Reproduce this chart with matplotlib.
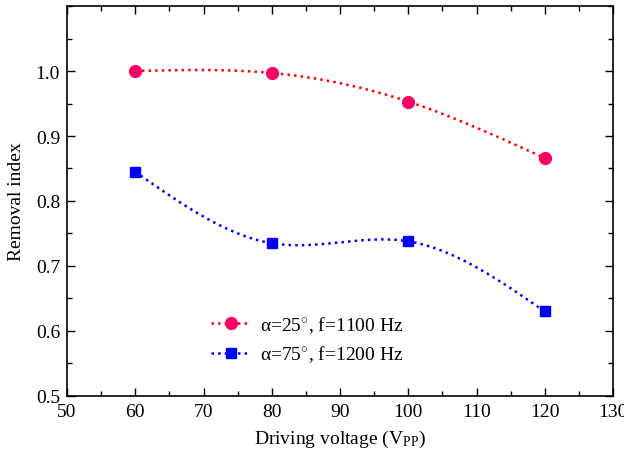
import numpy as np
import matplotlib
matplotlib.use("Agg")
import matplotlib.pyplot as plt
from matplotlib.ticker import MultipleLocator

plt.rcParams['font.family'] = ['Liberation Serif', 'DejaVu Serif']
plt.rcParams['mathtext.fontset'] = 'custom'
plt.rcParams['mathtext.rm'] = 'Liberation Serif'
plt.rcParams['mathtext.it'] = 'Liberation Serif:italic'

voltage = [60, 80, 100, 120]
red_vals = [1.000, 0.997, 0.953, 0.866]
blue_vals = [0.845, 0.735, 0.738, 0.630]
labels = [r"α=25$^{\circ}$, f=1100 Hz", r"α=75$^{\circ}$, f=1200 Hz"]


def natural_spline(x, y, xs):
    x = np.asarray(x, float); y = np.asarray(y, float)
    n = len(x)
    h = np.diff(x)
    A = np.zeros((n, n)); b = np.zeros(n)
    A[0, 0] = 1; A[-1, -1] = 1
    for i in range(1, n - 1):
        A[i, i - 1] = h[i - 1]
        A[i, i] = 2 * (h[i - 1] + h[i])
        A[i, i + 1] = h[i]
        b[i] = 3 * ((y[i + 1] - y[i]) / h[i] - (y[i] - y[i - 1]) / h[i - 1])
    c = np.linalg.solve(A, b)
    out = np.empty_like(xs)
    for k, xv in enumerate(xs):
        i = min(max(np.searchsorted(x, xv) - 1, 0), n - 2)
        dx = xv - x[i]
        bi = (y[i + 1] - y[i]) / h[i] - h[i] * (2 * c[i] + c[i + 1]) / 3
        di = (c[i + 1] - c[i]) / (3 * h[i])
        out[k] = y[i] + bi * dx + c[i] * dx ** 2 + di * dx ** 3
    return out


fig = plt.figure(figsize=(6.24, 4.52), dpi=100)
ax = fig.add_axes([0.1074, 0.1217, 0.875, 0.8628])

xs = np.linspace(voltage[0], voltage[-1], 200)
ax.plot(xs, natural_spline(voltage, red_vals, xs), ':', color='#ff0000', lw=1.8)
ax.plot(xs, natural_spline(voltage, blue_vals, xs), ':', color='#0000ff', lw=1.8)
ax.plot(voltage, red_vals, 'o', color='#ff0066', ms=8.5, zorder=3)
ax.plot(voltage, blue_vals, 's', color='#0000ff', ms=7.5, zorder=3)

h1, = ax.plot([], [], ':', color='#ff0000', lw=1.8, marker='o', mfc='#ff0066', mec='#ff0066', ms=8.5)
h2, = ax.plot([], [], ':', color='#0000ff', lw=1.8, marker='s', mfc='#0000ff', mec='#0000ff', ms=7.5)
ax.legend([h1, h2], labels, loc='upper left', bbox_to_anchor=(0.232, 0.255),
          frameon=False, fontsize=14, handlelength=2.0, handletextpad=0.5, labelspacing=0.45)

ax.set_xlim(50, 130)
ax.set_ylim(0.5, 1.1)
ax.xaxis.set_major_locator(MultipleLocator(10))
ax.xaxis.set_minor_locator(MultipleLocator(5))
ax.set_yticks([0.5, 0.6, 0.7, 0.8, 0.9, 1.0])
ax.set_yticklabels(['0.5', '0.6', '0.7', '0.8', '0.9', '1.0'])
ax.yaxis.set_minor_locator(MultipleLocator(0.05))
ax.tick_params(which='both', direction='in', top=True, right=True, labelsize=14)
ax.tick_params(which='major', length=6, width=1, pad=5)
ax.tick_params(which='minor', length=3.5, width=1)
for s in ax.spines.values():
    s.set_linewidth(1.2)

ax.set_xlabel(r"Driving voltage (V$_{\mathrm{PP}}$)", fontsize=14, labelpad=6)
ax.set_ylabel("Removal index", fontsize=14, labelpad=8)

fig.savefig("out.png", dpi=100)
